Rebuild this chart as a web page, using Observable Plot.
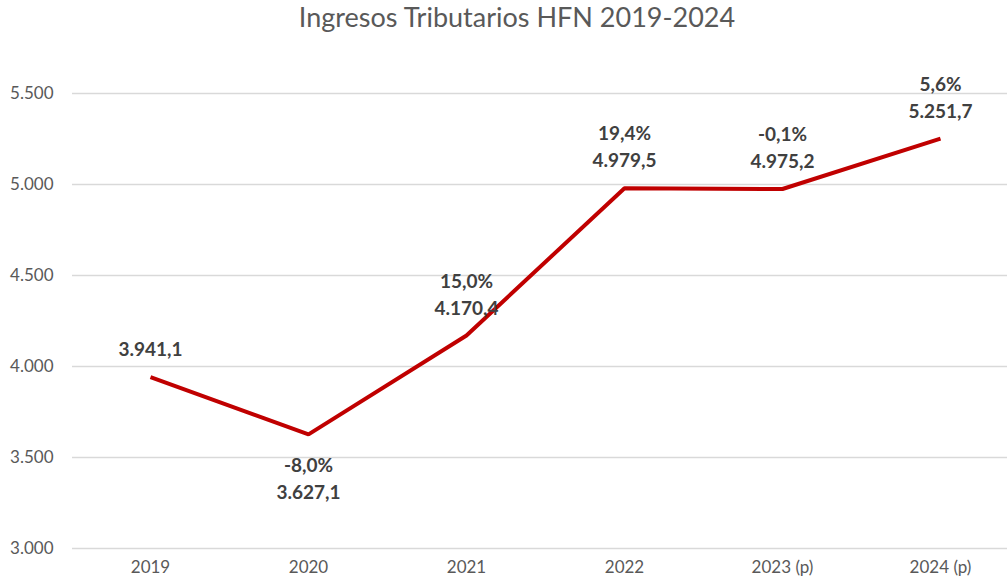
<!DOCTYPE html>
<html>
<head>
<meta charset="utf-8">
<script src="https://cdn.jsdelivr.net/npm/d3@7"></script>
<script src="https://cdn.jsdelivr.net/npm/@observablehq/plot@0.6"></script>
<style>
  html, body { margin: 0; padding: 0; background: #fff; }
  #wrap { position: relative; width: 1007px; height: 582px; overflow: hidden; }
  #title { position: absolute; top: 0px; left: 517px; transform: translateX(-50%); white-space: nowrap;
           font-family: Lato, "Open Sans", sans-serif; font-size: 27px; color: #595959; }
</style>
</head>
<body>
<div id="wrap">
  <div id="chart"></div>
  <div id="title">Ingresos Tributarios HFN 2019-2024</div>
</div>
<script>
const years = ["2019", "2020", "2021", "2022", "2023 (p)", "2024 (p)"];
const values = [3941.1, 3627.1, 4170.4, 4979.5, 4975.2, 5251.7];
const pctLabels = ["", "-8,0%", "15,0%", "19,4%", "-0,1%", "5,6%"];
const yTicks = [3000, 3500, 4000, 4500, 5000, 5500];

const loc = d3.formatLocale({decimal: ",", thousands: ".", grouping: [3], currency: ["", ""]});
const fmtVal = loc.format(",.1f");
const fmtTick = loc.format(",.0f");

// labels go below a clear trough (a point well under both neighbours), otherwise above
const data = years.map((y, i) => ({
  year: y,
  value: values[i],
  pct: pctLabels[i],
  below: (i > 0 && i < values.length - 1 &&
          values[i - 1] - values[i] > 100 && values[i + 1] - values[i] > 100)
}));
const above = data.filter(d => !d.below);
const below = data.filter(d => d.below);

const labelStyle = {fill: "#404040", fontWeight: "bold", fontSize: 19, fontFamily: "Lato, 'Open Sans', sans-serif"};

const chart = Plot.plot({
  width: 1007,
  height: 582,
  marginLeft: 72,
  marginRight: 0,
  marginTop: 93,
  marginBottom: 34,
  style: {fontFamily: "Lato, 'Open Sans', sans-serif", fontSize: "17px", color: "#595959", background: "#fff"},
  x: {type: "point", domain: years, range: [149, 940], padding: 0, label: null},
  y: {domain: [3000, 5500], label: null},
  marks: [
    Plot.gridY(yTicks, {stroke: "#d9d9d9", strokeOpacity: 1, strokeWidth: 1.5}),
    Plot.axisY(yTicks, {tickSize: 0, tickPadding: 19, tickFormat: fmtTick, fill: "#595959"}),
    Plot.axisX({tickSize: 0, tickPadding: 12, fill: "#595959"}),
    Plot.line(data, {x: "year", y: "value", stroke: "#C00000", strokeWidth: 4, strokeLinejoin: "miter", strokeLinecap: "butt"}),
    Plot.text(above, {x: "year", y: "value", text: d => fmtVal(d.value), dy: -27, ...labelStyle}),
    Plot.text(above, {x: "year", y: "value", text: "pct", dy: -54, ...labelStyle}),
    Plot.text(below, {x: "year", y: "value", text: "pct", dy: 32, ...labelStyle}),
    Plot.text(below, {x: "year", y: "value", text: d => fmtVal(d.value), dy: 59, ...labelStyle})
  ]
});
document.getElementById("chart").appendChild(chart);
</script>
</body>
</html>
